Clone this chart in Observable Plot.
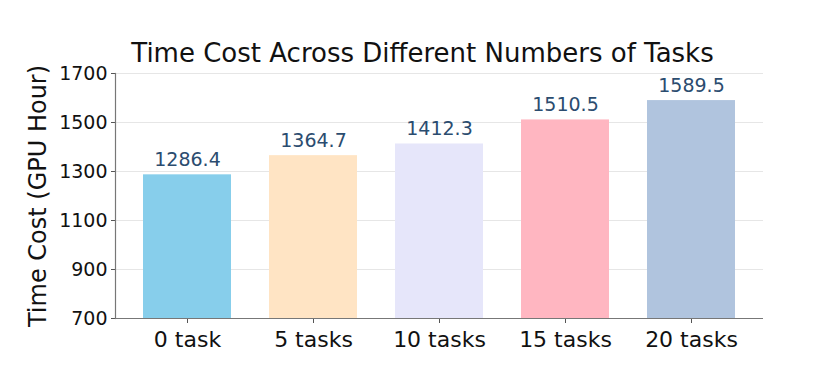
<!DOCTYPE html>
<html><head><meta charset="utf-8">
<script src="https://cdn.jsdelivr.net/npm/d3@7"></script>
<script src="https://cdn.jsdelivr.net/npm/@observablehq/plot@0.6"></script>
<style>
body{margin:0;background:#fff;}
svg{font-family:"DejaVu Sans",sans-serif;}
</style></head>
<body><div id="chart"></div>
<script>
const categories = ["0 task","5 tasks","10 tasks","15 tasks","20 tasks"];
const values = [1286.4,1364.7,1412.3,1510.5,1589.5];
const colors = ["#87CEEB","#FFE4C4","#E6E6FA","#FFB6C1","#B0C4DE"];
const yTicks = [700,900,1100,1300,1500,1700];
const yMin = 700, yMax = 1700;
const title = "Time Cost Across Different Numbers of Tasks";
const yLabel = "Time Cost (GPU Hour)";

const data = categories.map((c,i)=>({cat:c, value:values[i], color:colors[i], base:yMin}));

const chart = Plot.plot({
  width: 818, height: 374,
  marginLeft: 115, marginRight: 55, marginTop: 73, marginBottom: 56,
  x: {domain: categories, paddingInner: 0.3, paddingOuter: 0.22, label: null},
  y: {domain: [yMin, yMax], label: null},
  style: {fontFamily: "DejaVu Sans, sans-serif", background: "#fff"},
  marks: [
    Plot.gridY(yTicks, {stroke: "#e6e6e6", strokeOpacity: 1, strokeWidth: 1}),
    Plot.barY(data, {x: "cat", y1: "base", y2: "value", fill: "color", fillOpacity: 1}),
    Plot.text(data, {x: "cat", y: "value", text: d => d.value.toFixed(1), dy: -15, fill: "#2B4C6F", fontSize: 19}),
    Plot.axisY({ticks: yTicks, tickSize: 4, tickPadding: 4, fontSize: 19, stroke: "#555", fill: "#111", label: null, tickFormat: d => String(d)}),
    Plot.axisX({tickSize: 5, tickPadding: 8, fontSize: 22, stroke: "#555", fill: "#111", label: null}),
    Plot.frame({anchor: "left", stroke: "#777", strokeWidth: 1.2}),
    Plot.ruleY([yMin], {stroke: "#777", strokeWidth: 1.2}),
    Plot.text([title], {frameAnchor: "top", dy: -30, dx: -17, fontSize: 26, fill: "#111"}),
    Plot.text([yLabel], {frameAnchor: "left", dx: -77, dy: 0, rotate: -90, textAnchor: "middle", fontSize: 24, fill: "#111"})
  ]
});
document.getElementById("chart").appendChild(chart);
</script></body></html>
